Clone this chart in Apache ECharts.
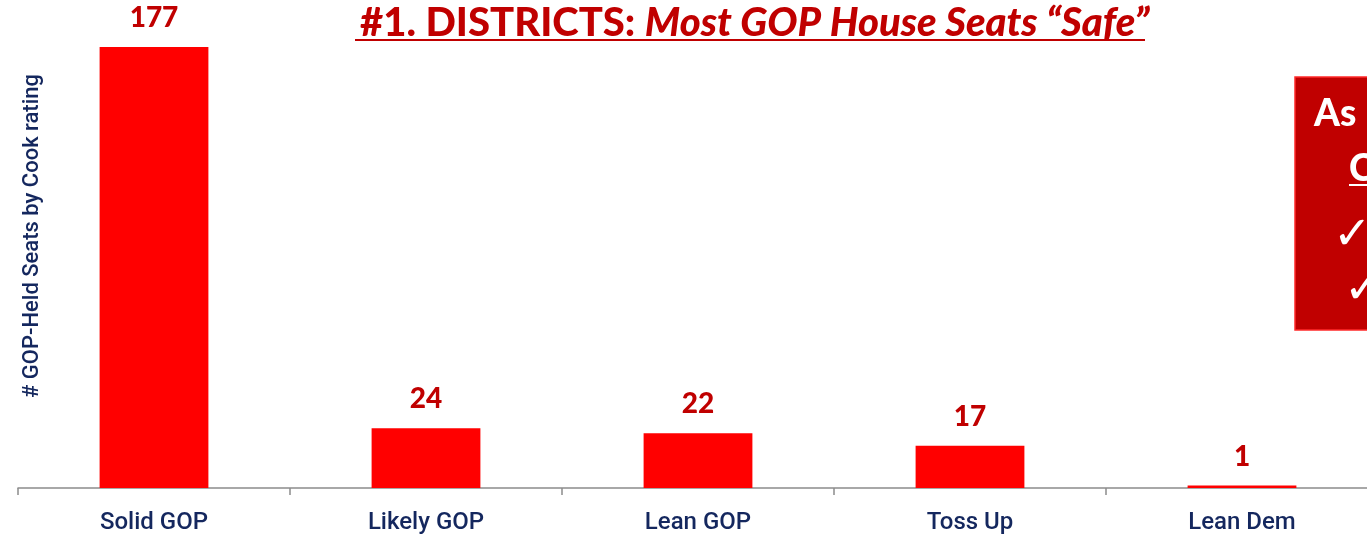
<!DOCTYPE html>
<html><head><meta charset="utf-8">
<script src="https://cdn.jsdelivr.net/npm/echarts@6/dist/echarts.min.js"></script>
<style>html,body{margin:0;padding:0;background:#fff}#c{width:1367px;height:538px}</style>
</head><body><div id="c"></div>
<script>
const categories = ['Solid GOP', 'Likely GOP', 'Lean GOP', 'Toss Up', 'Lean Dem'];
const seats = [177, 24, 22, 17, 1];
const titleMain = '#1. DISTRICTS: ';
const titleItalic = 'Most GOP House Seats \u201cSafe\u201d';
const yAxisName = '# GOP-Held Seats by Cook rating';
const boxLines = ['As', 'C', '\u2713', '\u2713'];

const chart = echarts.init(document.getElementById('c'), null, {renderer: 'canvas'});
const navy = '#14275e';
const dark = '#c00000';
const axisGray = '#8c8c8c';
const narrow = 'Roboto, "Liberation Sans", sans-serif';
const shadow = {shadowColor: 'rgba(0,0,0,0.55)', shadowBlur: 2, shadowOffsetX: 1.5, shadowOffsetY: 1.5};

chart.setOption({
  animation: false,
  backgroundColor: '#ffffff',
  title: {
    left: 355, top: -2,
    text: '{a|' + titleMain + '}{b|' + titleItalic + '}',
    textStyle: {
      rich: {
        a: {fontFamily: 'Lato', fontWeight: 900, fontSize: 40, color: dark},
        b: {fontFamily: 'Lato', fontWeight: 900, fontStyle: 'italic', fontSize: 40, color: dark}
      }
    }
  },
  grid: {left: 18, width: 1360, top: 39.5, bottom: 50, containLabel: false, outerBoundsMode: 'none'},
  xAxis: {
    type: 'category',
    data: categories,
    boundaryGap: true,
    axisLine: {show: true, lineStyle: {color: axisGray, width: 1.5}},
    axisTick: {show: true, length: 7, lineStyle: {color: axisGray, width: 1.5}},
    axisLabel: {color: navy, fontFamily: narrow, fontWeight: 500, fontSize: 24, margin: 23}
  },
  yAxis: {
    type: 'value', min: 0, max: 180,
    show: false,
    splitLine: {show: false}
  },
  series: [{
    type: 'bar',
    data: seats,
    barWidth: '40%',
    itemStyle: {color: '#ff0000'},
    label: {
      show: true, position: 'top', distance: 15,
      color: dark, fontFamily: 'Lato', fontWeight: 900, fontSize: 28
    }
  }],
  graphic: [
    {type: 'line', shape: {x1: 355, y1: 40, x2: 1145, y2: 40}, style: {stroke: dark, lineWidth: 2}},
    {type: 'text', x: 32, y: 236, rotation: Math.PI / 2,
     style: {text: yAxisName, fill: navy, font: '500 22px ' + narrow, align: 'center', verticalAlign: 'middle'}},
    {type: 'rect', shape: {x: 1295, y: 77, width: 100, height: 253},
     style: {fill: '#c00000', stroke: '#ff2a2a', lineWidth: 1.5}},
    {type: 'text', x: 1314, y: 114,
     style: Object.assign({text: boxLines[0], fill: '#fff', font: '900 37px Lato', verticalAlign: 'middle'}, shadow)},
    {type: 'text', x: 1349, y: 169,
     style: Object.assign({text: boxLines[1], fill: '#fff', font: '900 37px Lato', verticalAlign: 'middle'}, shadow)},
    {type: 'line', shape: {x1: 1349, y1: 185, x2: 1367, y2: 185}, style: {stroke: '#fff', lineWidth: 2}},
    {type: 'text', x: 1333, y: 237,
     style: Object.assign({text: boxLines[2], fill: '#fff', font: 'bold 46px "DejaVu Sans"', verticalAlign: 'middle'}, shadow)},
    {type: 'text', x: 1344, y: 291,
     style: Object.assign({text: boxLines[3], fill: '#fff', font: 'bold 46px "DejaVu Sans"', verticalAlign: 'middle'}, shadow)}
  ]
});
</script>
</body></html>
